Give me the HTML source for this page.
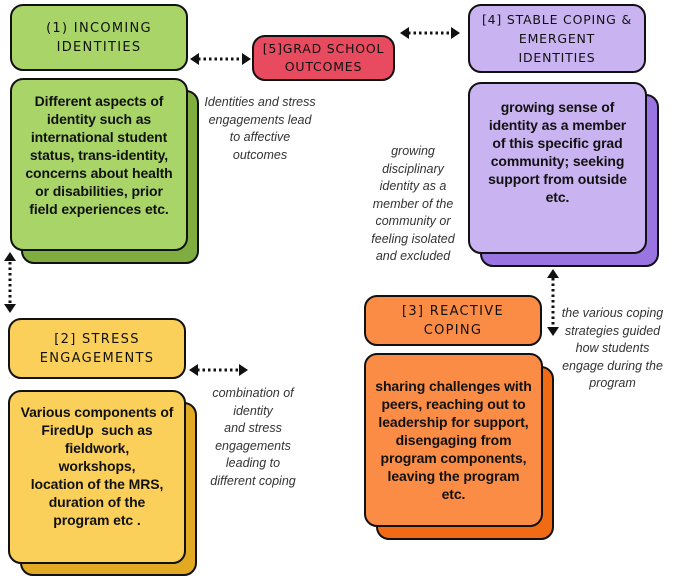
<!DOCTYPE html>
<html><head><meta charset="utf-8"><style>
body{margin:0;width:675px;height:582px;background:#fff;position:relative;overflow:hidden;font-family:"Liberation Sans",sans-serif}
.b{position:absolute;border:2.5px solid #111;border-radius:13px;box-sizing:border-box;display:flex;align-items:center;justify-content:center;text-align:center;color:#111;white-space:nowrap}
.t{font-family:"DejaVu Sans",sans-serif;font-size:13px;letter-spacing:1.3px;line-height:19px}
.d{font-weight:bold;font-size:14px;line-height:18px;letter-spacing:-0.1px}
.a{position:absolute;font-style:italic;font-size:12.5px;line-height:17.5px;color:#333;text-align:center;white-space:nowrap}
svg{position:absolute;left:0;top:0}
</style></head><body>
<div class="b" style="left:21px;top:90px;width:178px;height:174px;background:#80ad3f"></div>
<div class="b" style="left:20px;top:402px;width:177px;height:174px;background:#e2aa22"></div>
<div class="b" style="left:376px;top:366px;width:178px;height:174px;background:#f06b14"></div>
<div class="b" style="left:480px;top:94px;width:179px;height:173px;background:#9a74e0"></div>
<div class="b t" style="left:10px;top:4px;width:178px;height:67px;background:#a8d468">(1) INCOMING<br>IDENTITIES</div>
<div class="b t" style="left:252px;top:35px;width:143px;height:46px;background:#e84b60;letter-spacing:0.8px;line-height:18px;font-size:12.5px">[5]GRAD SCHOOL<br>OUTCOMES</div>
<div class="b t" style="left:468px;top:4px;width:178px;height:69px;background:#c9b3f0;letter-spacing:0.8px;font-size:12.5px">[4] STABLE COPING &amp;<br>EMERGENT<br>IDENTITIES</div>
<div class="b t" style="left:8px;top:318px;width:178px;height:61px;background:#fbd05a">[2] STRESS<br>ENGAGEMENTS</div>
<div class="b t" style="left:364px;top:295px;width:178px;height:51px;background:#fb8c46">[3] REACTIVE<br>COPING</div>
<div class="b d" style="left:10px;top:78px;width:178px;height:173px;background:#a8d468;padding-bottom:20px">Different aspects of<br>identity such as<br>international student<br>status, trans-identity,<br>concerns about health<br>or disabilities, prior<br>field experiences etc.</div>
<div class="b d" style="left:468px;top:82px;width:179px;height:172px;background:#c9b3f0;padding-bottom:32px">growing sense of<br>identity as a member<br>of this specific grad<br>community; seeking<br>support from outside<br>etc.</div>
<div class="b d" style="left:8px;top:390px;width:178px;height:174px;background:#fbd05a;padding-bottom:22px">Various components of<br>FiredUp&nbsp; such as<br>fieldwork,<br>workshops,<br>location of the MRS,<br>duration of the<br>program etc .</div>
<div class="b d" style="left:364px;top:353px;width:179px;height:174px;background:#fb8c46">sharing challenges with<br>peers, reaching out to<br>leadership for support,<br>disengaging from<br>program components,<br>leaving the program<br>etc.</div>
<div class="a" style="left:195px;top:94px;width:130px">Identities and stress<br>engagements lead<br>to affective<br>outcomes</div>
<div class="a" style="left:368px;top:143px;width:90px">growing<br>disciplinary<br>identity as a<br>member of the<br>community or<br>feeling isolated<br>and excluded</div>
<div class="a" style="left:198px;top:385px;width:110px">combination of<br>identity<br>and stress<br>engagements<br>leading to<br>different coping</div>
<div class="a" style="left:555px;top:305px;width:115px">the various coping<br>strategies guided<br>how students<br>engage during the<br>program</div>
<svg width="675" height="582">
<g stroke="#111" stroke-width="3" stroke-dasharray="2.5 3" fill="none">
<line x1="198" y1="59" x2="243" y2="59"/>
<line x1="408" y1="33" x2="452" y2="33"/>
<line x1="197" y1="370" x2="240" y2="370"/>
<line x1="10" y1="262" x2="10" y2="305"/>
<line x1="553" y1="278" x2="553" y2="327"/>
</g>
<g fill="#111">
<polygon points="190,59 199,53 199,65"/><polygon points="251,59 242,53 242,65"/>
<polygon points="400,33 409,27 409,39"/><polygon points="460,33 451,27 451,39"/>
<polygon points="189,370 198,364 198,376"/><polygon points="248,370 239,364 239,376"/>
<polygon points="10,252 4,261 16,261"/><polygon points="10,313 4,304 16,304"/>
<polygon points="553,269 547,278 559,278"/><polygon points="553,336 547,327 559,327"/>
</g>
</svg>
</body></html>
